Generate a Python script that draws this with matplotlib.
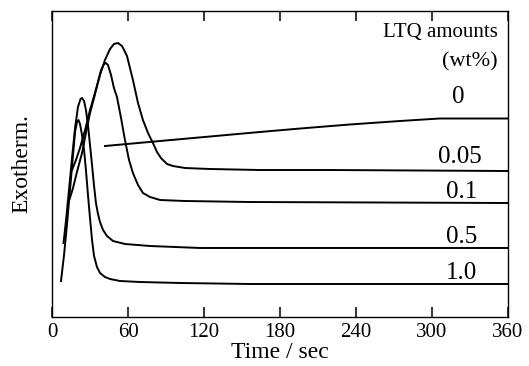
import numpy as np
import matplotlib
matplotlib.use('Agg')
import matplotlib.pyplot as plt

plt.rcParams['font.family'] = ['Liberation Serif', 'DejaVu Serif']

# time (sec) / exotherm (arb. units)
t_10 = [7.1, 9.5, 11.8, 14.2, 16.6, 18.2, 19.7, 20.9, 22.1, 23.7, 25.3, 26.8, 28.4, 30.0,
        31.6, 33.2, 35.5, 37.9, 41.8, 45.8, 53.7, 69.5, 101, 156, 243, 360]
y_10 = [36, 62, 92, 127, 162, 185, 195, 197, 193, 182, 167, 147, 122, 99,
        77, 61, 50, 44, 40, 38, 36, 35, 34, 33, 33, 33]

t_05 = [9.1, 11.1, 13.4, 15.8, 18.2, 20.5, 22.5, 23.7, 25.3, 26.8, 28.4, 30.0, 31.6, 33.2,
        34.7, 36.3, 37.9, 40.3, 43.4, 48.2, 57.6, 77.4, 117, 196, 360]
y_05 = [74, 97, 127, 159, 189, 210, 218, 219, 216, 207, 192, 172, 152, 131,
        114, 103, 95, 87, 81, 76, 73, 71, 69, 69, 69]

t_01 = [12.6, 14.2, 16.6, 19.7, 23.7, 26.8, 30.0, 33.2, 36.3, 38.7, 41.1, 42.6, 44.2, 46.6,
        48.9, 51.3, 54.5, 57.6, 60.8, 63.9, 67.9, 71.8, 77.4, 85.3, 105, 156, 360]
y_01 = [114, 119, 129, 145, 164, 184, 204, 219, 235, 247, 253, 254, 252, 242,
        229, 220, 199, 177, 157, 144, 132, 124, 120, 117, 116, 115, 114]

t_005 = [15.8, 18.9, 22.1, 26.1, 30.0, 33.9, 37.9, 41.8, 45.8, 48.9, 52.1, 55.3, 59.2, 63.9,
         67.9, 71.8, 75.8, 79.7, 82.9, 86.0, 90.8, 95.5, 105, 124.7, 164, 219, 360]
y_005 = [147, 157, 169, 187, 207, 224, 242, 257, 268, 273, 274, 271, 261, 237,
         214, 197, 184, 174, 165, 159, 153, 151, 149, 148, 147, 147, 146]

t_0 = [41.8, 85.3, 124.7, 164, 196, 235, 274.7, 306, 360]
y_0 = [171, 176, 180.5, 185, 188.5, 192.5, 196, 198.5, 198.5]

labels = ['0', '0.05', '0.1', '0.5', '1.0']
label_t = [320.5, 322, 323.5, 323.5, 323.5]
label_y = [220, 160, 125, 80, 44]

fig = plt.figure(figsize=(5.29, 3.66), dpi=100)
ax = fig.add_axes([0.0983, 0.1339, 0.862, 0.836])

for t, y in [(t_10, y_10), (t_05, y_05), (t_01, y_01), (t_005, y_005), (t_0, y_0)]:
    ax.plot(t, y, color='black', lw=1.4)

for lab, lt, ly in zip(labels, label_t, label_y):
    ax.text(lt, ly, lab, fontsize=18, ha='center', va='center')

ax.text(352, 285, 'LTQ amounts', fontsize=15, ha='right', va='center')
ax.text(352, 255, '(wt%)', fontsize=16, ha='right', va='center')

ax.set_xlim(0, 360)
ax.set_ylim(0, 306)
ax.set_xticks(range(0, 361, 60))
ax.set_yticks([])
ax.tick_params(axis='x', direction='in', top=True, length=7, width=1.1,
               labelsize=15, pad=4)
for s in ax.spines.values():
    s.set_linewidth(1.0)
ax.set_xlabel('Time / sec', fontsize=17, labelpad=0)
ax.set_ylabel('Exotherm.', fontsize=17, labelpad=14)

plt.savefig('out.png', dpi=100)
